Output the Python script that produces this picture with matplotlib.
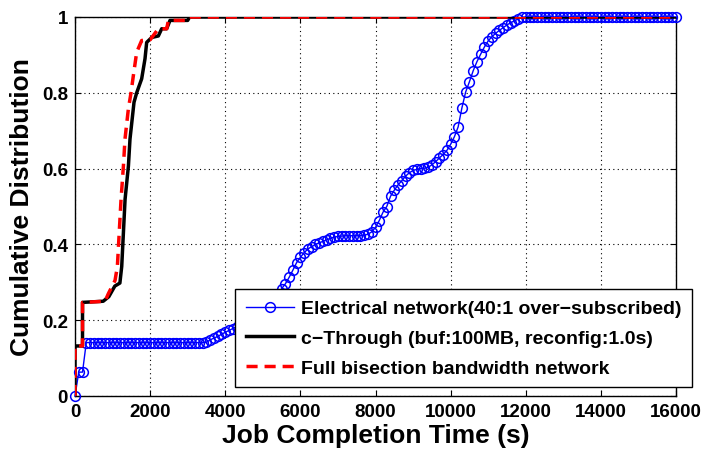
import matplotlib
matplotlib.use("Agg")
import matplotlib.pyplot as plt

plt.rcParams['font.family'] = ['Liberation Sans', 'DejaVu Sans']
plt.rcParams['font.weight'] = 'bold'

# Electrical network (40:1 over-subscribed): CDF sampled every 100 s
elec_x = list(range(0, 16001, 100))
elec_y = [
    0.0, 0.063, 0.063, 0.141, 0.141, 0.141, 0.141, 0.141, 0.141, 0.141,
    0.141, 0.141, 0.141, 0.141, 0.141, 0.141, 0.141, 0.141, 0.141, 0.141,
    0.141, 0.141, 0.141, 0.141, 0.141, 0.141, 0.141, 0.141, 0.141, 0.141,
    0.141, 0.141, 0.141, 0.141, 0.141,
    0.142, 0.148, 0.153, 0.157, 0.163, 0.168, 0.173, 0.178, 0.183, 0.188,
    0.193, 0.198, 0.204, 0.210, 0.217, 0.225, 0.235, 0.246, 0.258, 0.270,
    0.283, 0.296, 0.313, 0.332, 0.352, 0.366, 0.378, 0.388, 0.394, 0.400,
    0.404, 0.408, 0.412, 0.416, 0.419, 0.421, 0.422, 0.423, 0.423, 0.423,
    0.423, 0.423, 0.424, 0.427, 0.433, 0.445, 0.463, 0.485, 0.500, 0.527,
    0.543, 0.557, 0.568, 0.580, 0.589, 0.595, 0.598, 0.600, 0.601, 0.603,
    0.610, 0.618, 0.628, 0.637, 0.648, 0.664, 0.684, 0.710, 0.760, 0.802,
    0.829, 0.858, 0.882, 0.902, 0.921, 0.937, 0.948, 0.957, 0.965, 0.972,
    0.979, 0.985, 0.990, 0.995, 0.999,
    1.0, 1.0, 1.0, 1.0, 1.0, 1.0, 1.0, 1.0, 1.0, 1.0,
    1.0, 1.0, 1.0, 1.0, 1.0, 1.0, 1.0, 1.0, 1.0, 1.0,
    1.0, 1.0, 1.0, 1.0, 1.0, 1.0, 1.0, 1.0, 1.0, 1.0,
    1.0, 1.0, 1.0, 1.0, 1.0, 1.0, 1.0, 1.0, 1.0, 1.0,
    1.0,
]

# c-Through (buf:100MB, reconfig:1.0s)
ct_x = [0, 0, 200, 200, 750, 900, 1060, 1195, 1244, 1333, 1422, 1464, 1571,
        1642, 1775, 1864, 1908, 2042, 2219, 2308, 2441, 2529, 3000, 3050, 16000]
ct_y = [0, 0.132, 0.132, 0.247, 0.25, 0.262, 0.29, 0.298, 0.342, 0.519, 0.607,
        0.678, 0.775, 0.8, 0.837, 0.89, 0.933, 0.946, 0.95, 0.969, 0.969,
        0.991, 0.991, 1.0, 1.0]

# Full bisection bandwidth network
fb_x = [0, 0, 200, 200, 800, 888, 1066, 1128, 1226, 1289, 1331, 1420, 1491,
        1553, 1642, 1775, 2000, 2219, 2441, 2486, 3000, 3050, 16000]
fb_y = [0, 0.132, 0.132, 0.247, 0.25, 0.27, 0.305, 0.342, 0.519, 0.607, 0.678,
        0.757, 0.8, 0.845, 0.907, 0.938, 0.94, 0.969, 0.969, 0.991, 0.991,
        1.0, 1.0]

labels = ["Electrical network(40:1 over\u2212subscribed)",
          "c\u2212Through (buf:100MB, reconfig:1.0s)",
          "Full bisection bandwidth network"]

x_ticks = [0, 2000, 4000, 6000, 8000, 10000, 12000, 14000, 16000]
y_ticks = [0, 0.2, 0.4, 0.6, 0.8, 1.0]
y_tick_labels = ["0", "0.2", "0.4", "0.6", "0.8", "1"]

fig = plt.figure(figsize=(7.05, 4.52), dpi=100)
ax = fig.add_axes([75 / 705, 1 - 397 / 452, 601 / 705, 379 / 452])

ax.plot(elec_x, elec_y, color='#0000ff', lw=1.0, marker='o', ms=7,
        mfc='none', mec='#0000ff', mew=1.1, clip_on=False, zorder=3,
        label=labels[0])
ax.plot(ct_x, ct_y, color='black', lw=2.5, zorder=4, label=labels[1])
ax.plot(fb_x, fb_y, color='#ff0000', lw=2.5, linestyle=(0, (3.2, 2.0)),
        zorder=5, label=labels[2])

ax.set_xlim(0, 16000)
ax.set_ylim(0, 1)
ax.set_xticks(x_ticks)
ax.set_xticklabels([str(v) for v in x_ticks])
ax.set_yticks(y_ticks)
ax.set_yticklabels(y_tick_labels)
ax.tick_params(direction='in', top=True, right=True, length=4, width=0.8,
               labelsize=13.5, pad=5)
for lab in ax.get_xticklabels() + ax.get_yticklabels():
    lab.set_fontweight('bold')

ax.grid(True, color='black', linestyle=(0, (1, 3)), linewidth=0.8)
ax.set_axisbelow(True)
for s in ax.spines.values():
    s.set_linewidth(1.0)
    s.set_color('black')

ax.set_xlabel("Job Completion Time (s)", fontsize=19, fontweight='bold',
              labelpad=2)
ax.set_ylabel("Cumulative Distribution", fontsize=19, fontweight='bold',
              labelpad=6)

leg = ax.legend(loc='upper left', bbox_to_anchor=(235 / 705, 1 - 290 / 452),
                bbox_transform=fig.transFigure, borderaxespad=0,
                fontsize=14, frameon=True, fancybox=False, shadow=False,
                handlelength=2.5, handletextpad=0.35, labelspacing=0.62,
                borderpad=0.55)
leg.get_frame().set_edgecolor('black')
leg.get_frame().set_linewidth(1.0)
leg.get_frame().set_alpha(1.0)
leg.set_zorder(10)
for t in leg.get_texts():
    t.set_fontweight('bold')

fig.savefig("out.png", dpi=100)
